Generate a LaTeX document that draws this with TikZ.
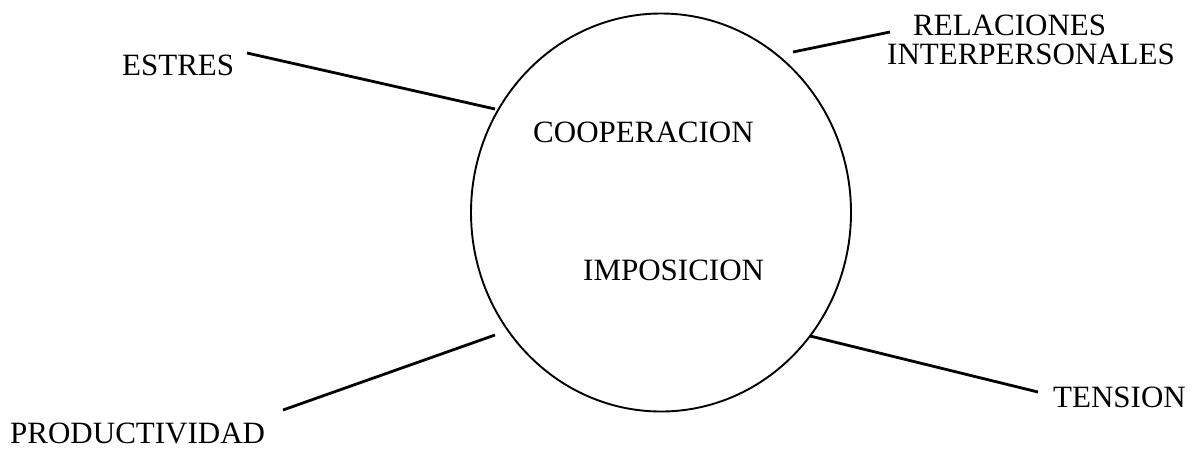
\documentclass[tikz,border=0pt]{standalone}
\usepackage{fontspec}
\setmainfont{Liberation Serif}
\usetikzlibrary{shapes.geometric}
\begin{document}
\begin{tikzpicture}[x=1pt,y=-1pt,
  lbl/.style={inner sep=0pt, anchor=base west, font=\fontsize{31}{31}\selectfont},
  conn/.style={line width=2.8pt},
  ring/.style={draw, ellipse, line width=1.9pt, inner sep=0pt}
]
\useasboundingbox (0,0) rectangle (1198,448);
\node[ring, minimum width=380pt, minimum height=398pt] (circ) at (661,212.5) {};
\node[lbl] (estres) at (122,75) {ESTRES};
\node[lbl] (rel1) at (913,35) {RELACIONES};
\node[lbl] (rel2) at (887,64) {INTERPERSONALES};
\node[lbl] (coop) at (533,142) {COOPERACION};
\node[lbl] (impo) at (583,280) {IMPOSICION};
\node[lbl] (prod) at (10,443) {PRODUCTIVIDAD};
\node[lbl] (tens) at (1053,407) {TENSION};
\coordinate (es1) at (247,53);  \coordinate (es2) at (495,109);
\coordinate (re1) at (793,52);  \coordinate (re2) at (890,32);
\coordinate (pr1) at (283,410); \coordinate (pr2) at (495,335);
\coordinate (te1) at (810,336); \coordinate (te2) at (1038,392);
\draw[conn] (es1) -- (es2);
\draw[conn] (re1) -- (re2);
\draw[conn] (pr1) -- (pr2);
\draw[conn] (te1) -- (te2);
\end{tikzpicture}
\end{document}
